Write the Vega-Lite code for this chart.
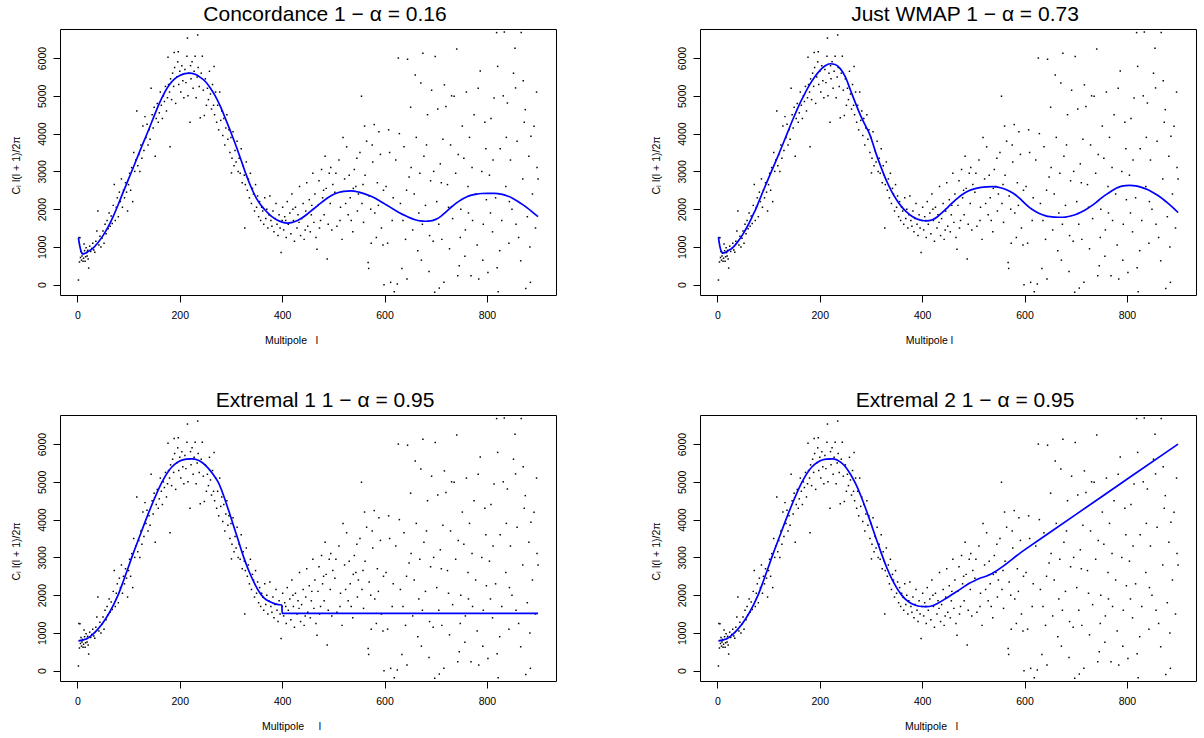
{
"$schema":"https://vega.github.io/schema/vega-lite/v6.json",
"padding":{"left":10,"top":3,"right":5,"bottom":5},
"background":"white",
"bounds":"flush",
"spacing":{"row":120,"column":144},
"columns":2,
"config":{
 "view":{"stroke":"#000","strokeWidth":1},
 "font":"Liberation Sans",
 "title":{"font":"Liberation Sans","fontSize":21,"fontWeight":"normal","color":"#000","anchor":"middle","frame":"group","offset":4,"baseline":"alphabetic","dx":17},
 "axis":{"domain":false,"grid":false,"tickColor":"#000","tickSize":7,"tickWidth":1,"labelFont":"Liberation Sans","labelFontSize":10.5,"labelColor":"#000","titleFont":"Liberation Sans","titleFontSize":10.5,"titleFontWeight":"normal","titleColor":"#000","labelOverlap":false,"labelFlush":false}
},
"datasets":{
"pts":[
{"l":2,"v":123},{"l":3,"v":1250},{"l":4,"v":600},{"l":5,"v":1240},{"l":6,"v":720},{"l":7,"v":880},{"l":8,"v":650},{"l":9,"v":760},{"l":10,"v":830},{"l":11,"v":620},{"l":12,"v":700},{"l":13,"v":1080},{"l":14,"v":900},{"l":15,"v":620},{"l":16,"v":740},{"l":17,"v":980},{"l":18,"v":850},{"l":19,"v":760},{"l":20,"v":910},{"l":21,"v":680},{"l":22,"v":440},{"l":24,"v":1020},{"l":26,"v":880},{"l":28,"v":960},{"l":30,"v":1100},{"l":32,"v":920},{"l":34,"v":860},{"l":36,"v":1150},{"l":38,"v":1420},{"l":40,"v":1950},{"l":42,"v":1050},{"l":44,"v":1280},{"l":46,"v":1000},{"l":48,"v":1230},{"l":50,"v":1420},{"l":52,"v":1100},{"l":54,"v":1600},{"l":56,"v":1350},{"l":58,"v":1700},{"l":60,"v":1480},{"l":62,"v":1900},{"l":64,"v":1550},{"l":66,"v":1820},{"l":68,"v":1620},{"l":70,"v":2100},{"l":72,"v":2650},{"l":74,"v":1700},{"l":76,"v":2050},{"l":78,"v":2300},{"l":80,"v":1800},{"l":82,"v":2450},{"l":84,"v":2200},{"l":86,"v":2800},{"l":88,"v":2050},{"l":90,"v":2500},{"l":92,"v":2300},{"l":94,"v":2700},{"l":96,"v":2450},{"l":98,"v":1950},{"l":100,"v":2650},
{"l":102,"v":2950},{"l":104,"v":2500},{"l":106,"v":3100},{"l":108,"v":2200},{"l":110,"v":3500},{"l":112,"v":3000},{"l":114,"v":3300},{"l":116,"v":4600},{"l":118,"v":3150},{"l":120,"v":3450},{"l":122,"v":3000},{"l":124,"v":3700},{"l":126,"v":3350},{"l":128,"v":4200},{"l":130,"v":3550},{"l":132,"v":4450},{"l":134,"v":3900},{"l":136,"v":4250},{"l":138,"v":3700},{"l":140,"v":4100},{"l":142,"v":3850},{"l":144,"v":5200},{"l":146,"v":4500},{"l":148,"v":4150},{"l":150,"v":4700},{"l":152,"v":3400},{"l":154,"v":4400},{"l":156,"v":4800},{"l":158,"v":4300},{"l":160,"v":4550},{"l":162,"v":5100},{"l":164,"v":4750},{"l":166,"v":4400},{"l":168,"v":5000},{"l":170,"v":4850},{"l":172,"v":5250},{"l":174,"v":4600},{"l":176,"v":4950},{"l":177,"v":6020},{"l":178,"v":5300},{"l":180,"v":5100},{"l":181,"v":3650},{"l":182,"v":5450},{"l":184,"v":4900},{"l":186,"v":5600},{"l":188,"v":5250},{"l":189,"v":6150},{"l":190,"v":5750},{"l":192,"v":4800},{"l":194,"v":5500},{"l":196,"v":5900},{"l":197,"v":6170},{"l":198,"v":5300},{"l":200,"v":5650},
{"l":202,"v":5100},{"l":204,"v":5800},{"l":206,"v":5400},{"l":208,"v":4950},{"l":210,"v":5700},{"l":212,"v":5350},{"l":214,"v":6050},{"l":215,"v":6530},{"l":216,"v":5000},{"l":218,"v":5600},{"l":220,"v":4300},{"l":221,"v":5800},{"l":222,"v":5450},{"l":224,"v":5900},{"l":226,"v":5200},{"l":228,"v":5650},{"l":230,"v":6050},{"l":232,"v":4950},{"l":234,"v":5500},{"l":235,"v":6610},{"l":236,"v":5750},{"l":238,"v":5250},{"l":240,"v":4420},{"l":242,"v":5600},{"l":244,"v":6050},{"l":246,"v":5150},{"l":248,"v":4480},{"l":250,"v":5450},{"l":252,"v":4750},{"l":254,"v":5200},{"l":256,"v":4900},{"l":258,"v":5650},{"l":260,"v":5050},{"l":262,"v":4650},{"l":264,"v":5300},{"l":266,"v":4750},{"l":267,"v":5780},{"l":268,"v":4500},{"l":270,"v":5100},{"l":272,"v":4300},{"l":274,"v":4750},{"l":276,"v":4100},{"l":278,"v":5100},{"l":280,"v":4350},{"l":282,"v":4600},{"l":284,"v":3950},{"l":286,"v":4400},{"l":288,"v":3700},{"l":290,"v":4150},{"l":292,"v":4500},{"l":294,"v":3850},{"l":296,"v":4100},{"l":298,"v":3500},{"l":300,"v":3900},
{"l":301,"v":2960},{"l":302,"v":3350},{"l":304,"v":4050},{"l":306,"v":3150},{"l":308,"v":3550},{"l":310,"v":3250},{"l":312,"v":3800},{"l":314,"v":3000},{"l":316,"v":3350},{"l":318,"v":2950},{"l":320,"v":3600},{"l":322,"v":2700},{"l":324,"v":3150},{"l":326,"v":2900},{"l":327,"v":1500},{"l":328,"v":2650},{"l":330,"v":3250},{"l":332,"v":2500},{"l":334,"v":2800},{"l":336,"v":2300},{"l":338,"v":2950},{"l":340,"v":2150},{"l":342,"v":2550},{"l":344,"v":2400},{"l":346,"v":1950},{"l":348,"v":2650},{"l":350,"v":2050},{"l":352,"v":2350},{"l":354,"v":1800},{"l":356,"v":2200},{"l":358,"v":1700},{"l":360,"v":2050},{"l":362,"v":1950},{"l":364,"v":1600},{"l":366,"v":2300},{"l":368,"v":1750},{"l":370,"v":2000},{"l":372,"v":1500},{"l":374,"v":1850},{"l":376,"v":2350},{"l":378,"v":1700},{"l":380,"v":1550},{"l":382,"v":1950},{"l":384,"v":1400},{"l":386,"v":1750},{"l":388,"v":2150},{"l":390,"v":1600},{"l":392,"v":1300},{"l":394,"v":1850},{"l":396,"v":1500},{"l":398,"v":850},{"l":400,"v":1700},
{"l":401,"v":2050},{"l":403,"v":1450},{"l":405,"v":1800},{"l":408,"v":1250},{"l":410,"v":2200},{"l":412,"v":1600},{"l":415,"v":1900},{"l":417,"v":1350},{"l":419,"v":2400},{"l":422,"v":1700},{"l":424,"v":1150},{"l":426,"v":2050},{"l":429,"v":1500},{"l":431,"v":1850},{"l":434,"v":2600},{"l":436,"v":1300},{"l":438,"v":1750},{"l":441,"v":2150},{"l":443,"v":1200},{"l":446,"v":1950},{"l":448,"v":2700},{"l":450,"v":1550},{"l":453,"v":2250},{"l":455,"v":1400},{"l":457,"v":1850},{"l":460,"v":2950},{"l":462,"v":1650},{"l":464,"v":2400},{"l":466,"v":1250},{"l":468,"v":940},{"l":470,"v":2100},{"l":472,"v":2750},{"l":475,"v":1700},{"l":477,"v":3050},{"l":479,"v":2300},{"l":482,"v":1850},{"l":484,"v":3400},{"l":486,"v":2550},{"l":488,"v":680},{"l":490,"v":1600},{"l":492,"v":2950},{"l":494,"v":2150},{"l":497,"v":1450},{"l":499,"v":2650},{"l":407,"v":1700},{"l":421,"v":2000},{"l":433,"v":1650},{"l":445,"v":1450},{"l":458,"v":2100},{"l":473,"v":1500},{"l":481,"v":2500},{"l":495,"v":3100},
{"l":503,"v":2450},{"l":507,"v":1550},{"l":511,"v":3300},{"l":514,"v":2050},{"l":517,"v":1200},{"l":522,"v":2800},{"l":526,"v":3650},{"l":529,"v":1850},{"l":533,"v":2300},{"l":538,"v":1400},{"l":541,"v":3050},{"l":544,"v":2600},{"l":547,"v":1950},{"l":552,"v":3500},{"l":556,"v":2150},{"l":559,"v":1650},{"l":562,"v":2900},{"l":565,"v":3800},{"l":570,"v":2350},{"l":574,"v":1100},{"l":577,"v":3250},{"l":581,"v":1900},{"l":586,"v":2700},{"l":589,"v":4050},{"l":594,"v":1500},{"l":598,"v":2500},{"l":505,"v":2950},{"l":519,"v":3900},{"l":535,"v":1700},{"l":549,"v":2400},{"l":561,"v":4200},{"l":568,"v":590},{"l":569,"v":430},{"l":580,"v":4240},{"l":555,"v":4990},{"l":592,"v":3450},{"l":584,"v":1250},{"l":573,"v":2000},{"l":531,"v":2900},{"l":513,"v":1700},{"l":597,"v":1050},{"l":599,"v":0},{"l":546,"v":3350},{"l":524,"v":2150},{"l":588,"v":2100},{"l":576,"v":3700},{"l":558,"v":2650},{"l":539,"v":2550},
{"l":603,"v":2600},{"l":608,"v":4100},{"l":612,"v":62},{"l":615,"v":1700},{"l":619,"v":-185},{"l":622,"v":3300},{"l":625,"v":18},{"l":627,"v":6000},{"l":631,"v":2150},{"l":634,"v":431},{"l":638,"v":3650},{"l":641,"v":1200},{"l":645,"v":5970},{"l":648,"v":2850},{"l":651,"v":4700},{"l":655,"v":1450},{"l":658,"v":2400},{"l":662,"v":3900},{"l":665,"v":900},{"l":669,"v":2950},{"l":671,"v":5340},{"l":674,"v":1600},{"l":677,"v":3400},{"l":680,"v":2100},{"l":684,"v":4500},{"l":687,"v":350},{"l":690,"v":2750},{"l":692,"v":5150},{"l":695,"v":1150},{"l":698,"v":-200},{"l":699,"v":6040},{"l":606,"v":1100},{"l":617,"v":2300},{"l":629,"v":4000},{"l":636,"v":1700},{"l":643,"v":2500},{"l":652,"v":3100},{"l":660,"v":5550},{"l":667,"v":1900},{"l":675,"v":6130},{"l":682,"v":3700},{"l":688,"v":1300},{"l":696,"v":3000},{"l":610,"v":3500},{"l":644,"v":150},{"l":672,"v":650},
{"l":702,"v":2200},{"l":704,"v":4650},{"l":707,"v":-90},{"l":709,"v":3200},{"l":712,"v":1200},{"l":716,"v":62},{"l":717,"v":5290},{"l":720,"v":4720},{"l":723,"v":2650},{"l":727,"v":950},{"l":729,"v":3700},{"l":733,"v":1750},{"l":736,"v":4990},{"l":739,"v":2950},{"l":741,"v":6240},{"l":743,"v":237},{"l":746,"v":501},{"l":749,"v":2000},{"l":752,"v":4200},{"l":755,"v":3350},{"l":758,"v":1450},{"l":760,"v":5100},{"l":763,"v":2600},{"l":766,"v":3900},{"l":769,"v":237},{"l":772,"v":1700},{"l":775,"v":4500},{"l":778,"v":2400},{"l":781,"v":1050},{"l":784,"v":150},{"l":787,"v":5660},{"l":790,"v":3000},{"l":793,"v":1600},{"l":796,"v":4300},{"l":799,"v":2250},{"l":706,"v":1600},{"l":714,"v":3850},{"l":725,"v":2050},{"l":731,"v":5000},{"l":744,"v":3450},{"l":757,"v":750},{"l":764,"v":1900},{"l":771,"v":3100},{"l":783,"v":5200},{"l":792,"v":650},{"l":798,"v":3600},{"l":711,"v":2700},{"l":748,"v":1250},
{"l":802,"v":325},{"l":805,"v":2900},{"l":808,"v":4400},{"l":811,"v":1400},{"l":814,"v":4940},{"l":817,"v":2300},{"l":819,"v":6675},{"l":820,"v":450},{"l":821,"v":5780},{"l":822,"v":-185},{"l":826,"v":3600},{"l":829,"v":1700},{"l":832,"v":5000},{"l":834,"v":6690},{"l":837,"v":2600},{"l":840,"v":4810},{"l":843,"v":1100},{"l":846,"v":3300},{"l":849,"v":2000},{"l":852,"v":5600},{"l":855,"v":6260},{"l":856,"v":5210},{"l":859,"v":3800},{"l":862,"v":1250},{"l":866,"v":633},{"l":867,"v":6680},{"l":870,"v":2800},{"l":873,"v":4300},{"l":875,"v":4635},{"l":876,"v":-100},{"l":879,"v":1800},{"l":882,"v":3400},{"l":885,"v":62},{"l":886,"v":3931},{"l":889,"v":2400},{"l":892,"v":4195},{"l":895,"v":1500},{"l":898,"v":3100},{"l":900,"v":2800},{"l":812,"v":3300},{"l":825,"v":900},{"l":844,"v":2200},{"l":857,"v":1600},{"l":871,"v":5400},{"l":884,"v":1000},{"l":897,"v":5100},{"l":807,"v":1900},{"l":838,"v":3900}
],
"c1":[
{"l":2,"v":1240},{"l":5,"v":1000},{"l":8,"v":850},{"l":11,"v":810},{"l":15,"v":830},{"l":20,"v":870},{"l":30,"v":960},{"l":40,"v":1110},{"l":50,"v":1300},{"l":60,"v":1530},{"l":70,"v":1810},{"l":80,"v":2130},{"l":90,"v":2470},{"l":100,"v":2800},{"l":110,"v":3130},{"l":120,"v":3470},{"l":130,"v":3800},{"l":140,"v":4130},{"l":150,"v":4470},{"l":160,"v":4800},{"l":170,"v":5080},{"l":180,"v":5300},{"l":190,"v":5450},{"l":200,"v":5540},{"l":210,"v":5590},{"l":218,"v":5600},{"l":230,"v":5570},{"l":240,"v":5490},{"l":250,"v":5380},{"l":260,"v":5200},{"l":270,"v":4980},{"l":280,"v":4700},{"l":290,"v":4370},{"l":300,"v":4030},{"l":310,"v":3670},{"l":320,"v":3290},{"l":330,"v":2900},{"l":340,"v":2560},{"l":350,"v":2280},{"l":360,"v":2080},{"l":370,"v":1930},{"l":380,"v":1800},{"l":390,"v":1710},{"l":400,"v":1655},{"l":410,"v":1630},{"l":420,"v":1650},{"l":430,"v":1700},{"l":440,"v":1780},{"l":450,"v":1880},{"l":460,"v":1990},{"l":470,"v":2100},{"l":480,"v":2210},{"l":490,"v":2310},{"l":500,"v":2390},{"l":510,"v":2440},{"l":520,"v":2470},{"l":535,"v":2485},{"l":550,"v":2450},{"l":560,"v":2410},{"l":570,"v":2360},{"l":580,"v":2300},{"l":590,"v":2220},{"l":600,"v":2140},{"l":610,"v":2060},{"l":620,"v":1980},{"l":630,"v":1900},{"l":640,"v":1830},{"l":650,"v":1770},{"l":660,"v":1720},{"l":670,"v":1690},{"l":680,"v":1680},{"l":690,"v":1690},{"l":700,"v":1730},{"l":710,"v":1810},{"l":720,"v":1930},{"l":730,"v":2050},{"l":740,"v":2160},{"l":750,"v":2250},{"l":760,"v":2320},{"l":770,"v":2370},{"l":780,"v":2400},{"l":790,"v":2415},{"l":800,"v":2420},{"l":815,"v":2420},{"l":830,"v":2390},{"l":840,"v":2350},{"l":850,"v":2290},{"l":860,"v":2210},{"l":870,"v":2120},{"l":880,"v":2020},{"l":890,"v":1910},{"l":900,"v":1800}
],
"c2":[
{"l":2,"v":1250},{"l":5,"v":1000},{"l":8,"v":870},{"l":11,"v":840},{"l":15,"v":850},{"l":20,"v":890},{"l":30,"v":980},{"l":40,"v":1140},{"l":50,"v":1340},{"l":60,"v":1580},{"l":70,"v":1860},{"l":75,"v":2000},{"l":80,"v":2170},{"l":90,"v":2500},{"l":100,"v":2820},{"l":110,"v":3140},{"l":120,"v":3460},{"l":130,"v":3790},{"l":140,"v":4130},{"l":150,"v":4460},{"l":160,"v":4770},{"l":170,"v":5040},{"l":180,"v":5290},{"l":190,"v":5500},{"l":200,"v":5670},{"l":210,"v":5790},{"l":220,"v":5850},{"l":230,"v":5830},{"l":240,"v":5720},{"l":250,"v":5500},{"l":260,"v":5150},{"l":270,"v":4800},{"l":280,"v":4470},{"l":290,"v":4190},{"l":297,"v":4000},{"l":300,"v":3890},{"l":310,"v":3470},{"l":320,"v":3100},{"l":330,"v":2760},{"l":340,"v":2480},{"l":350,"v":2250},{"l":360,"v":2060},{"l":370,"v":1920},{"l":380,"v":1810},{"l":390,"v":1740},{"l":400,"v":1700},{"l":408,"v":1690},{"l":420,"v":1720},{"l":430,"v":1800},{"l":440,"v":1920},{"l":450,"v":2050},{"l":460,"v":2180},{"l":470,"v":2300},{"l":480,"v":2400},{"l":490,"v":2480},{"l":500,"v":2530},{"l":515,"v":2575},{"l":537,"v":2595},{"l":555,"v":2560},{"l":570,"v":2480},{"l":580,"v":2400},{"l":590,"v":2290},{"l":600,"v":2160},{"l":610,"v":2040},{"l":620,"v":1950},{"l":630,"v":1880},{"l":640,"v":1830},{"l":650,"v":1800},{"l":660,"v":1790},{"l":670,"v":1785},{"l":680,"v":1790},{"l":690,"v":1820},{"l":700,"v":1860},{"l":710,"v":1920},{"l":720,"v":1990},{"l":730,"v":2080},{"l":740,"v":2180},{"l":750,"v":2290},{"l":760,"v":2390},{"l":770,"v":2480},{"l":780,"v":2560},{"l":790,"v":2610},{"l":805,"v":2630},{"l":820,"v":2610},{"l":830,"v":2570},{"l":840,"v":2520},{"l":850,"v":2450},{"l":860,"v":2370},{"l":870,"v":2270},{"l":880,"v":2160},{"l":890,"v":2040},{"l":900,"v":1910}
],
"c3":[
{"l":2,"v":790},{"l":10,"v":810},{"l":20,"v":860},{"l":30,"v":960},{"l":40,"v":1100},{"l":50,"v":1270},{"l":60,"v":1480},{"l":70,"v":1730},{"l":80,"v":2020},{"l":90,"v":2380},{"l":100,"v":2760},{"l":110,"v":3140},{"l":120,"v":3500},{"l":130,"v":3860},{"l":140,"v":4210},{"l":150,"v":4540},{"l":160,"v":4850},{"l":170,"v":5110},{"l":180,"v":5320},{"l":190,"v":5460},{"l":200,"v":5550},{"l":212,"v":5600},{"l":224,"v":5610},{"l":235,"v":5580},{"l":245,"v":5500},{"l":255,"v":5370},{"l":265,"v":5200},{"l":275,"v":4990},{"l":285,"v":4660},{"l":295,"v":4260},{"l":305,"v":3840},{"l":315,"v":3420},{"l":325,"v":3000},{"l":335,"v":2640},{"l":345,"v":2340},{"l":355,"v":2090},{"l":365,"v":1920},{"l":375,"v":1830},{"l":385,"v":1775},{"l":392,"v":1750},{"l":399.5,"v":1740},{"l":400,"v":1520},{"l":650,"v":1520},{"l":900,"v":1520}
],
"c4":[
{"l":2,"v":790},{"l":10,"v":810},{"l":20,"v":860},{"l":30,"v":960},{"l":40,"v":1100},{"l":50,"v":1270},{"l":60,"v":1480},{"l":70,"v":1730},{"l":80,"v":2020},{"l":90,"v":2380},{"l":100,"v":2760},{"l":110,"v":3140},{"l":120,"v":3500},{"l":130,"v":3860},{"l":140,"v":4210},{"l":150,"v":4540},{"l":160,"v":4850},{"l":170,"v":5110},{"l":180,"v":5320},{"l":190,"v":5460},{"l":200,"v":5550},{"l":212,"v":5600},{"l":226,"v":5610},{"l":240,"v":5530},{"l":250,"v":5400},{"l":260,"v":5200},{"l":270,"v":4950},{"l":280,"v":4640},{"l":290,"v":4280},{"l":300,"v":3900},{"l":310,"v":3500},{"l":320,"v":3120},{"l":330,"v":2760},{"l":340,"v":2450},{"l":350,"v":2200},{"l":360,"v":2000},{"l":370,"v":1860},{"l":380,"v":1770},{"l":390,"v":1720},{"l":400,"v":1700},{"l":408,"v":1695},{"l":420,"v":1720},{"l":430,"v":1780},{"l":447,"v":1917},{"l":460,"v":2030},{"l":475,"v":2160},{"l":492,"v":2313},{"l":505,"v":2400},{"l":515,"v":2460},{"l":525,"v":2500},{"l":600,"v":3200},{"l":700,"v":4133},{"l":800,"v":5067},{"l":900,"v":6000}
]
},
"concat":[
{"width":496,"height":266,"title":{"text":"Concordance 1 − α = 0.16"},
 "layer":[
  {"data":{"name":"pts"},"mark":{"type":"square","size":2.2,"color":"#000","opacity":1,"clip":true},
   "encoding":{"x":{"field":"l","type":"quantitative","scale":{"domain":[-34,935],"nice":false,"zero":false},"axis":{"values":[0,200,400,600,800],"title":"Multipole\u00a0\u00a0\u00a0l","labelPadding":16,"labelBaseline":"alphabetic","titleX":231,"titleY":48,"titleBaseline":"alphabetic","titleAlign":"center"}},
    "y":{"field":"v","type":"quantitative","scale":{"domain":[-273,6770],"nice":false,"zero":false},"axis":{"values":[0,1000,2000,3000,4000,5000,6000],"format":"d","labelAngle":-90,"labelAlign":"center","labelBaseline":"alphabetic","labelPadding":8,"title":"Cₗ  l(l + 1)/2π","titleAngle":-90,"titleBaseline":"alphabetic","titleAlign":"center","titleX":-41,"titleY":136}}}},
  {"data":{"name":"c1"},"mark":{"type":"line","color":"#0000ff","strokeWidth":1.7,"clip":true,"interpolate":"monotone"},"encoding":{"x":{"field":"l","type":"quantitative"},"y":{"field":"v","type":"quantitative"}}}
 ]},
{"width":496,"height":266,"title":{"text":"Just WMAP 1 − α = 0.73"},
 "layer":[
  {"data":{"name":"pts"},"mark":{"type":"square","size":2.2,"color":"#000","opacity":1,"clip":true},
   "encoding":{"x":{"field":"l","type":"quantitative","scale":{"domain":[-34,935],"nice":false,"zero":false},"axis":{"values":[0,200,400,600,800],"title":"Multipole l","labelPadding":16,"labelBaseline":"alphabetic","titleX":229,"titleY":48,"titleBaseline":"alphabetic","titleAlign":"center"}},
    "y":{"field":"v","type":"quantitative","scale":{"domain":[-273,6770],"nice":false,"zero":false},"axis":{"values":[0,1000,2000,3000,4000,5000,6000],"format":"d","labelAngle":-90,"labelAlign":"center","labelBaseline":"alphabetic","labelPadding":8,"title":"Cₗ  l(l + 1)/2π","titleAngle":-90,"titleBaseline":"alphabetic","titleAlign":"center","titleX":-41,"titleY":136}}}},
  {"data":{"name":"c2"},"mark":{"type":"line","color":"#0000ff","strokeWidth":1.7,"clip":true,"interpolate":"monotone"},"encoding":{"x":{"field":"l","type":"quantitative"},"y":{"field":"v","type":"quantitative"}}}
 ]},
{"width":496,"height":266,"title":{"text":"Extremal 1 1 − α = 0.95"},
 "layer":[
  {"data":{"name":"pts"},"mark":{"type":"square","size":2.2,"color":"#000","opacity":1,"clip":true},
   "encoding":{"x":{"field":"l","type":"quantitative","scale":{"domain":[-34,935],"nice":false,"zero":false},"axis":{"values":[0,200,400,600,800],"title":"Multipole\u00a0\u00a0\u00a0\u00a0\u00a0l","labelPadding":16,"labelBaseline":"alphabetic","titleX":231,"titleY":48,"titleBaseline":"alphabetic","titleAlign":"center"}},
    "y":{"field":"v","type":"quantitative","scale":{"domain":[-273,6770],"nice":false,"zero":false},"axis":{"values":[0,1000,2000,3000,4000,5000,6000],"format":"d","labelAngle":-90,"labelAlign":"center","labelBaseline":"alphabetic","labelPadding":8,"title":"Cₗ  l(l + 1)/2π","titleAngle":-90,"titleBaseline":"alphabetic","titleAlign":"center","titleX":-41,"titleY":136}}}},
  {"data":{"name":"c3"},"mark":{"type":"line","color":"#0000ff","strokeWidth":1.7,"clip":true,"interpolate":"monotone"},"encoding":{"x":{"field":"l","type":"quantitative"},"y":{"field":"v","type":"quantitative"}}}
 ]},
{"width":496,"height":266,"title":{"text":"Extremal 2 1 − α = 0.95"},
 "layer":[
  {"data":{"name":"pts"},"mark":{"type":"square","size":2.2,"color":"#000","opacity":1,"clip":true},
   "encoding":{"x":{"field":"l","type":"quantitative","scale":{"domain":[-34,935],"nice":false,"zero":false},"axis":{"values":[0,200,400,600,800],"title":"Multipole\u00a0\u00a0\u00a0l","labelPadding":16,"labelBaseline":"alphabetic","titleX":231,"titleY":48,"titleBaseline":"alphabetic","titleAlign":"center"}},
    "y":{"field":"v","type":"quantitative","scale":{"domain":[-273,6770],"nice":false,"zero":false},"axis":{"values":[0,1000,2000,3000,4000,5000,6000],"format":"d","labelAngle":-90,"labelAlign":"center","labelBaseline":"alphabetic","labelPadding":8,"title":"Cₗ  l(l + 1)/2π","titleAngle":-90,"titleBaseline":"alphabetic","titleAlign":"center","titleX":-41,"titleY":136}}}},
  {"data":{"name":"c4"},"mark":{"type":"line","color":"#0000ff","strokeWidth":1.7,"clip":true,"interpolate":"monotone"},"encoding":{"x":{"field":"l","type":"quantitative"},"y":{"field":"v","type":"quantitative"}}}
 ]}
]
}
